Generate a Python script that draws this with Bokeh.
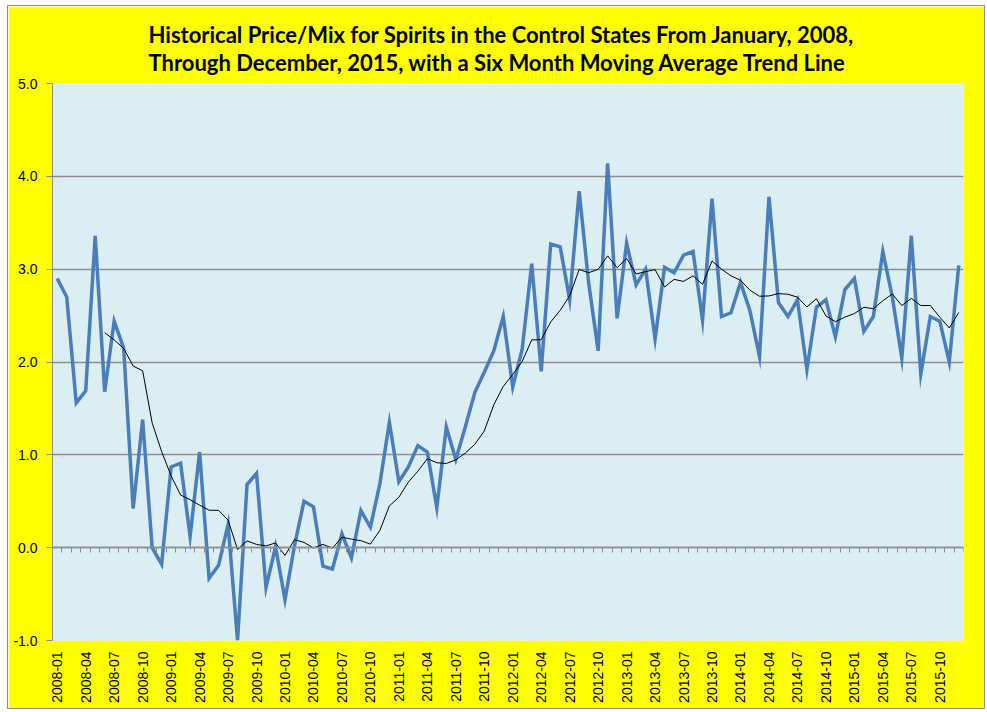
import math
import numpy as np
import pandas as pd
from bokeh.plotting import figure
from bokeh.models import (ColumnDataSource, FixedTicker, LinearAxis, Range1d, Title,
                          NumeralTickFormatter)
from bokeh.embed import file_html
from bokeh.resources import INLINE

# ---- data -------------------------------------------------------------
years = [2008, 2009, 2010, 2011, 2012, 2013, 2014, 2015]
months = [f"{y}-{m:02d}" for y in years for m in range(1, 13)]

price_mix = [
    # 2008
    2.90, 2.70, 1.56, 1.69, 3.36, 1.68, 2.44, 2.15, 0.42, 1.38, 0.00, -0.18,
    # 2009
    0.87, 0.91, 0.12, 1.03, -0.33, -0.19, 0.25, -1.00, 0.68, 0.80, -0.43, 0.01,
    # 2010
    -0.56, 0.02, 0.50, 0.44, -0.20, -0.23, 0.15, -0.11, 0.40, 0.22, 0.69, 1.35,
    # 2011
    0.71, 0.87, 1.10, 1.03, 0.43, 1.30, 0.95, 1.30, 1.67, 1.89, 2.12, 2.49,
    # 2012
    1.73, 2.14, 3.06, 1.90, 3.27, 3.24, 2.67, 3.84, 2.85, 2.12, 4.14, 2.47,
    # 2013
    3.28, 2.83, 3.00, 2.25, 3.02, 2.96, 3.15, 3.19, 2.45, 3.76, 2.49, 2.53,
    # 2014
    2.86, 2.55, 2.06, 3.78, 2.64, 2.49, 2.67, 1.92, 2.59, 2.67, 2.27, 2.78,
    # 2015
    2.90, 2.33, 2.49, 3.19, 2.70, 2.04, 3.36, 1.87, 2.49, 2.44, 2.00, 3.04,
]

tick_labels = ["2008-01", "2008-04", "2008-07", "2008-10",
               "2009-01", "2009-04", "2009-07", "2009-10",
               "2010-01", "2010-04", "2010-07", "2010-10",
               "2011-01", "2011-04", "2011-07", "2011-10",
               "2012-01", "2012-04", "2012-07", "2012-10",
               "2013-01", "2013-04", "2013-07", "2013-10",
               "2014-01", "2014-04", "2014-07", "2014-10",
               "2015-01", "2015-04", "2015-07", "2015-10"]

y_ticks = [-1.0, 0.0, 1.0, 2.0, 3.0, 4.0, 5.0]

title_line1 = "Historical Price/Mix for Spirits in the Control States From January, 2008,"
title_line2 = "Through December, 2015, with a Six Month Moving Average Trend Line"

# ---- derived ----------------------------------------------------------
idx = list(range(len(months)))
ma6 = pd.Series(price_mix).rolling(6).mean()
src = ColumnDataSource(dict(x=idx, month=months, v=price_mix))
ma_src = ColumnDataSource(dict(x=[i for i in idx if not np.isnan(ma6[i])],
                               v=[float(m) for m in ma6 if not np.isnan(m)]))

YELLOW = "#FFFF00"
PLOT_BG = "#DAEEF3"
GRID = "#8E8E8E"
BLUE = "#4A7EBB"

p = figure(width=976, height=702, output_backend="svg", toolbar_location=None,
           x_range=Range1d(-0.5, len(months) - 0.5), y_range=Range1d(-1.0, 5.0),
           min_border_left=44, min_border_right=21, min_border_top=77,
           min_border_bottom=68, title=None)
p.margin = (6, 0, 0, 8)

p.background_fill_color = PLOT_BG
p.border_fill_color = YELLOW
p.outline_line_color = None
p.styles = {"outline": "1px solid #8c8c8c"}

# two-line title
title = Title(text=title_line1 + "\n" + title_line2, align="left",
              text_font="Lato", text_font_size="22px", text_font_style="bold",
              text_color="black", text_line_height=1.03, offset=96, standoff=15)
p.add_layout(title, "above")

# y axis
p.yaxis.ticker = FixedTicker(ticks=y_ticks)
p.yaxis.formatter = NumeralTickFormatter(format="0.0")
p.yaxis.axis_line_color = GRID
p.yaxis.major_tick_line_color = GRID
p.yaxis.major_tick_out = 6
p.yaxis.major_tick_in = 0
p.yaxis.minor_tick_line_color = None
p.yaxis.major_label_standoff = 9
p.yaxis.major_label_text_font = "Liberation Sans"
p.yaxis.major_label_text_font_size = "14px"
p.yaxis.major_label_text_color = "black"

# x axis (labels every 3 months)
label_pos = [months.index(t) for t in tick_labels]
p.xaxis.ticker = FixedTicker(ticks=label_pos)
p.xaxis.major_label_overrides = {pos: lab for pos, lab in zip(label_pos, tick_labels)}
p.xaxis.major_label_orientation = math.pi / 2
p.xaxis.axis_line_color = None
p.xaxis.major_tick_line_color = None
p.xaxis.minor_tick_line_color = None
p.xaxis.major_tick_out = 0
p.xaxis.major_tick_in = 0
p.xaxis.major_label_standoff = 11
p.xaxis.major_label_text_font = "Liberation Sans"
p.xaxis.major_label_text_font_size = "14px"
p.xaxis.major_label_text_color = "black"

# category axis crossing at zero, with tick marks between months
bounds = [i - 0.5 for i in range(len(months) + 1)]
zero_axis = LinearAxis(fixed_location=0, ticker=FixedTicker(ticks=bounds),
                       major_label_overrides={b: "" for b in bounds},
                       major_label_text_font_size="0px")
zero_axis.axis_line_color = GRID
zero_axis.axis_line_width = 1.5
zero_axis.major_tick_line_color = GRID
zero_axis.major_tick_out = 5
zero_axis.major_tick_in = 0
zero_axis.minor_tick_line_color = None
p.add_layout(zero_axis, "below")

# grid
p.xgrid.grid_line_color = None
p.ygrid.ticker = FixedTicker(ticks=y_ticks)
p.ygrid.grid_line_color = GRID
p.ygrid.grid_line_width = 1.5

# series
p.line("x", "v", source=src, line_color=BLUE, line_width=3.5, line_join="miter")
p.line("x", "v", source=ma_src, line_color="black", line_width=1)

open("out.html", "w").write(file_html(p, INLINE))
